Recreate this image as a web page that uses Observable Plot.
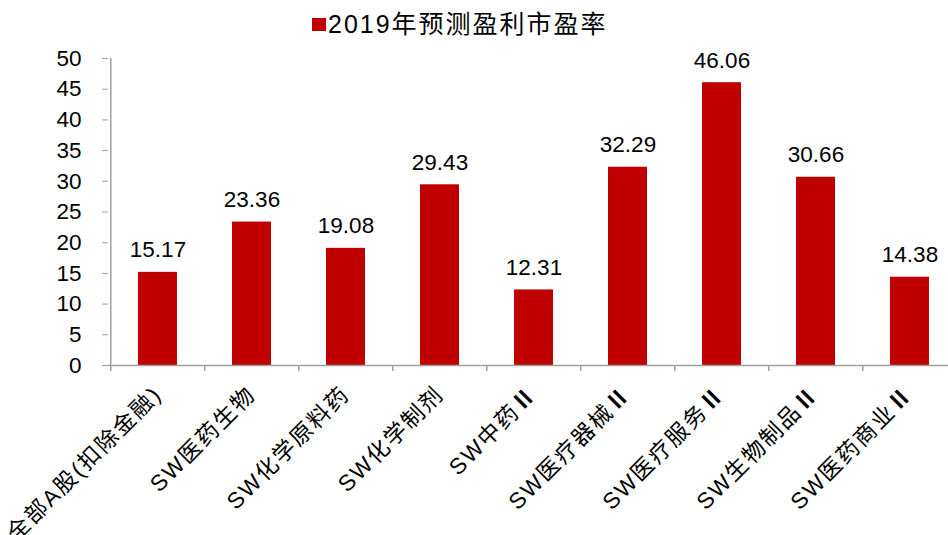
<!DOCTYPE html>
<html><head><meta charset="utf-8">
<script src="https://cdn.jsdelivr.net/npm/d3@7"></script>
<script src="https://cdn.jsdelivr.net/npm/@observablehq/plot@0.6"></script>
<style>
@font-face{font-family:"RomanNum";src:local("Noto Sans CJK SC Bold"),local("NotoSansCJKsc-Bold"),local("Noto Sans CJK SC");unicode-range:U+2160-217F;}
body{margin:0;background:#fff;font-family:"RomanNum","Liberation Sans",Arial,"Noto Sans CJK SC",sans-serif;}
#legend{display:block;}
g[aria-label="y-axis tick"]{stroke:#a0a0a0;}
g[aria-label="x-axis tick label"] text{letter-spacing:2px;}
</style>
</head><body>
<div id="chart"></div>
<script>
const seriesName = "2019年预测盈利市盈率";
const categories = ["全部A股(扣除金融)","SW医药生物","SW化学原料药","SW化学制剂","SW中药Ⅱ","SW医疗器械Ⅱ","SW医疗服务Ⅱ","SW生物制品Ⅱ","SW医药商业Ⅱ"];
const values = [15.17,23.36,19.08,29.43,12.31,32.29,46.06,30.66,14.38];
const yTicks = [0,5,10,15,20,25,30,35,40,45,50];
const barColor = "#C00000";
const fontStack = '"RomanNum","Liberation Sans",Arial,"Noto Sans CJK SC",sans-serif';

const data = categories.map((c,i)=>({category:c, value:values[i]}));
const container = document.getElementById("chart");

// legend above the chart
const leg = d3.create("svg").attr("id","legend").attr("width",948).attr("height",45);
leg.append("rect").attr("x",312).attr("y",18).attr("width",14).attr("height",13).attr("fill",barColor);
leg.append("text").attr("x",328).attr("y",33)
  .attr("font-family",fontStack)
  .attr("font-size",25).attr("letter-spacing","2px").attr("fill","#000").text(seriesName);
container.appendChild(leg.node());

const rangeX = [108, 958];
const step = (rangeX[1]-rangeX[0])/categories.length;
const grey = "#a0a0a0";

const chart = Plot.plot({
  width:948, height:490, marginTop:13, marginBottom:170, marginLeft:108, marginRight:0,
  style:{fontFamily:fontStack, fontSize:"22.5px", color:"#000", background:"#fff", overflow:"visible"},
  x:{domain:categories, range:rangeX, paddingInner:0.59, paddingOuter:0.295, tickSize:0, tickRotate:-45, tickPadding:25, label:null},
  y:{domain:[0,50], ticks:yTicks, tickSize:6, tickPadding:21, label:null},
  marks:[
    Plot.barY(data,{x:"category", y:"value", fill:barColor}),
    Plot.ruleY([0],{stroke:grey, strokeWidth:1.5}),
    Plot.ruleX([categories[0]],{x:d=>d, dx:-step/2, y1:0, y2:50, stroke:grey, strokeWidth:1.5}),
    Plot.ruleX(categories,{x:d=>d, dx:-step/2, y1:0, y2:0, insetBottom:-6, stroke:grey, strokeWidth:1.5}),
    Plot.text(data,{x:"category", y:"value", text:d=>d.value.toFixed(2), dy:-15, lineAnchor:"bottom", fontSize:22.5, fill:"#000"})
  ]
});
container.appendChild(chart);
</script>
</body></html>
